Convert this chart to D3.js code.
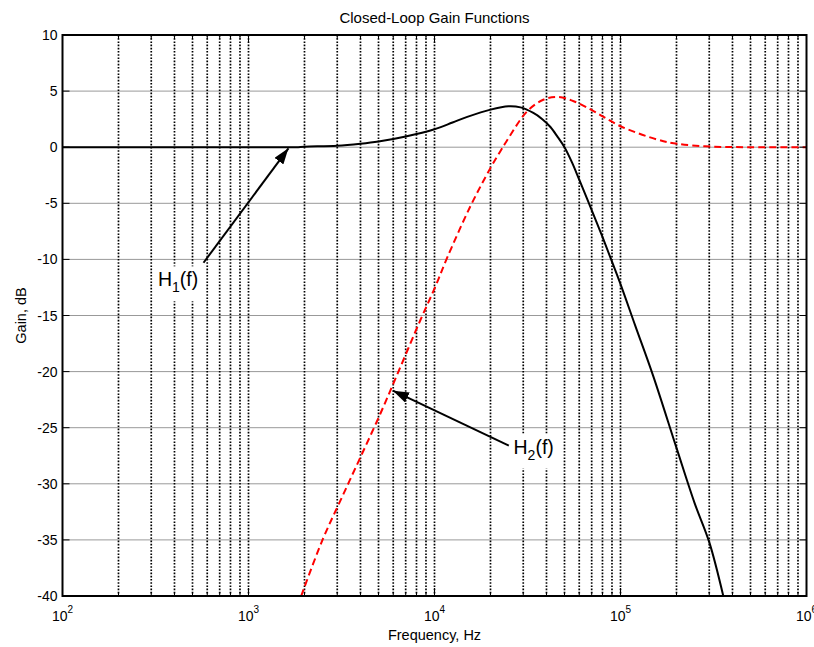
<!DOCTYPE html>
<html lang="en">
<head>
<meta charset="utf-8">
<title>Closed-Loop Gain Functions</title>
<script src="https://cdn.jsdelivr.net/npm/d3@7"></script>
<style>
  body { margin: 0; background: #fff; }
  text { font-family: "Liberation Sans", Arial, sans-serif; fill: #000; }
</style>
</head>
<body>
<svg width="814" height="647"></svg>
<script>
// H1(f): black solid
var h1Freq = [100, 1000, 1800, 2000, 3000, 4000, 5000, 7000, 10000, 12500, 15000, 20000, 25000, 29000, 34000,
              38000, 42000, 46000, 50000, 55000, 60000, 70000, 80000, 90000, 100000, 120000, 150000,
              200000, 250000, 300000, 357000];
var h1Gain = [0, 0, 0, 0.05, 0.12, 0.3, 0.5, 0.95, 1.6, 2.2, 2.7, 3.35, 3.65, 3.55, 3.05,
              2.5, 1.8, 0.9, 0, -1.4, -2.9, -5.6, -8.0, -10.2, -12.2, -15.9, -20.4,
              -26.8, -31.7, -35.2, -40];

// H2(f): red dashed
var h2Freq = [1920, 2500, 3160, 3980, 5100, 6400, 8400, 10000, 11700, 15600, 20000, 22600, 24400,
              31500, 38700, 45700, 56000, 72000, 100000, 158000, 202000, 305000, 500000, 1000000];
var h2Gain = [-40, -35, -31.3, -27.7, -23.8, -20, -15.4, -12.6, -9.85, -5.26, -1.85, -0.36, 0.53,
              3.2, 4.25, 4.48, 4.1, 3.2, 1.87, 0.68, 0.3, 0.06, 0, 0];

var yTicks = [10, 5, 0, -5, -10, -15, -20, -25, -30, -35, -40];
var xMajor = [2, 3, 4, 5, 6];   // exponents of 10

// annotation anchors, in data units [freq, dB]
var h1Label = {text: 'H', sub: '1', rest: '(f)', at: [326, -12.4], tail: [573, -10.3], tip: [1640, -0.1]};
var h2Label = {text: 'H', sub: '2', rest: '(f)', at: [26600, -27.3], tail: [25100, -26.6], tip: [5980, -21.7]};

var margin = {top: 35, left: 62.5};
var w = 744, h = 561;

var svg = d3.select('svg');
var g = svg.append('g').attr('transform', 'translate(' + margin.left + ',' + margin.top + ')');

var x = d3.scaleLog().domain([1e2, 1e6]).range([0, w]);
var y = d3.scaleLinear().domain([-40, 10]).range([h, 0]);

// minor + major frequencies
var xGrid = [];
for (var e = 2; e < 6; e++) {
    for (var m = 1; m <= 9; m++) xGrid.push(m * Math.pow(10, e));
}
xGrid.push(1e6);

// horizontal grid
g.selectAll('line.hgrid')
    .data(yTicks.filter(d => d !== 10 && d !== -40))
    .enter().append('line')
    .attr('class', 'hgrid')
    .attr('x1', 0).attr('x2', w)
    .attr('y1', d => y(d)).attr('y2', d => y(d))
    .style('stroke', '#999').style('stroke-width', 1);

// vertical dotted grid
g.selectAll('line.vgrid')
    .data(xGrid.filter(d => d > 1e2 && d < 1e6))
    .enter().append('line')
    .attr('class', 'vgrid')
    .attr('x1', d => x(d)).attr('x2', d => x(d))
    .attr('y1', 0).attr('y2', h)
    .style('stroke', '#000').style('stroke-width', 1.7)
    .style('stroke-dasharray', '1.6,1.6');

// curves
g.append('clipPath').attr('id', 'plotclip')
    .append('rect').attr('width', w).attr('height', h);

var line = d3.line()
    .x(d => x(d[0]))
    .y(d => y(d[1]))
    .curve(d3.curveCatmullRom.alpha(0.5));

g.append('path')
    .attr('d', line(d3.zip(h2Freq, h2Gain)))
    .attr('clip-path', 'url(#plotclip)')
    .style('fill', 'none').style('stroke', '#f00').style('stroke-width', 2)
    .style('stroke-dasharray', '7,4');

g.append('path')
    .attr('d', line(d3.zip(h1Freq, h1Gain)))
    .attr('clip-path', 'url(#plotclip)')
    .style('fill', 'none').style('stroke', '#000').style('stroke-width', 2);

// ticks (inward)
xGrid.forEach(function(d) {
    var lg = Math.log10(d);
    var major = Math.abs(lg - Math.round(lg)) < 1e-9;
    var len = major ? 8 : 4;
    g.append('line').attr('x1', x(d)).attr('x2', x(d)).attr('y1', h).attr('y2', h - len)
        .style('stroke', '#000').style('stroke-width', 1);
    g.append('line').attr('x1', x(d)).attr('x2', x(d)).attr('y1', 0).attr('y2', len)
        .style('stroke', '#000').style('stroke-width', 1);
});
yTicks.forEach(function(d) {
    g.append('line').attr('x1', 0).attr('x2', 7).attr('y1', y(d)).attr('y2', y(d))
        .style('stroke', '#000').style('stroke-width', 1);
    g.append('line').attr('x1', w).attr('x2', w - 7).attr('y1', y(d)).attr('y2', y(d))
        .style('stroke', '#000').style('stroke-width', 1);
});

// box
g.append('rect')
    .attr('width', w).attr('height', h)
    .style('fill', 'none').style('stroke', '#000').style('stroke-width', 2);

// y tick labels
g.selectAll('text.ylab')
    .data(yTicks)
    .enter().append('text')
    .attr('class', 'ylab')
    .attr('x', -5).attr('y', d => y(d))
    .attr('dy', '0.36em')
    .attr('text-anchor', 'end')
    .style('font-size', '14px')
    .text(d => d);

// x tick labels: 10^n
var xl = g.selectAll('text.xlab')
    .data(xMajor)
    .enter().append('text')
    .attr('class', 'xlab')
    .attr('x', d => x(Math.pow(10, d)))
    .attr('y', h + 25)
    .attr('text-anchor', 'middle')
    .style('font-size', '14px');
xl.append('tspan').text('10');
xl.append('tspan').attr('dy', -8).style('font-size', '10px').text(d => d);

// titles
svg.append('text')
    .attr('x', margin.left + w / 2).attr('y', 23)
    .attr('text-anchor', 'middle')
    .style('font-size', '15px')
    .text('Closed-Loop Gain Functions');

svg.append('text')
    .attr('x', margin.left + w / 2).attr('y', 640)
    .attr('text-anchor', 'middle')
    .style('font-size', '14.5px')
    .text('Frequency, Hz');

svg.append('text')
    .attr('transform', 'translate(26,' + (margin.top + h / 2) + ') rotate(-90)')
    .attr('text-anchor', 'middle')
    .style('font-size', '14.5px')
    .text('Gain, dB');

// annotations
svg.append('defs').append('marker')
    .attr('id', 'arrowhead')
    .attr('viewBox', '0 0 16 11')
    .attr('refX', 16).attr('refY', 5.5)
    .attr('markerWidth', 16).attr('markerHeight', 11)
    .attr('markerUnits', 'userSpaceOnUse')
    .attr('orient', 'auto')
    .append('path').attr('d', 'M0,0 L16,5.5 L0,11 Z').style('fill', '#000');

[h1Label, h2Label].forEach(function(a) {
    var t = g.append('text')
        .attr('x', x(a.at[0])).attr('y', y(a.at[1]))
        .style('font-size', '19.5px');
    t.append('tspan').text(a.text);
    t.append('tspan').attr('dy', 6).style('font-size', '14px').text(a.sub);
    t.append('tspan').attr('dy', -6).text(a.rest);
    var bb = t.node().getBBox();
    g.insert('rect', function() { return t.node(); })
        .attr('x', bb.x - 3).attr('y', bb.y - 2)
        .attr('width', bb.width + 6).attr('height', bb.height + 8)
        .style('fill', '#fff');
    g.append('line')
        .attr('x1', x(a.tail[0])).attr('y1', y(a.tail[1]))
        .attr('x2', x(a.tip[0])).attr('y2', y(a.tip[1]))
        .attr('marker-end', 'url(#arrowhead)')
        .style('stroke', '#000').style('stroke-width', 2);
});
</script>
</body>
</html>
